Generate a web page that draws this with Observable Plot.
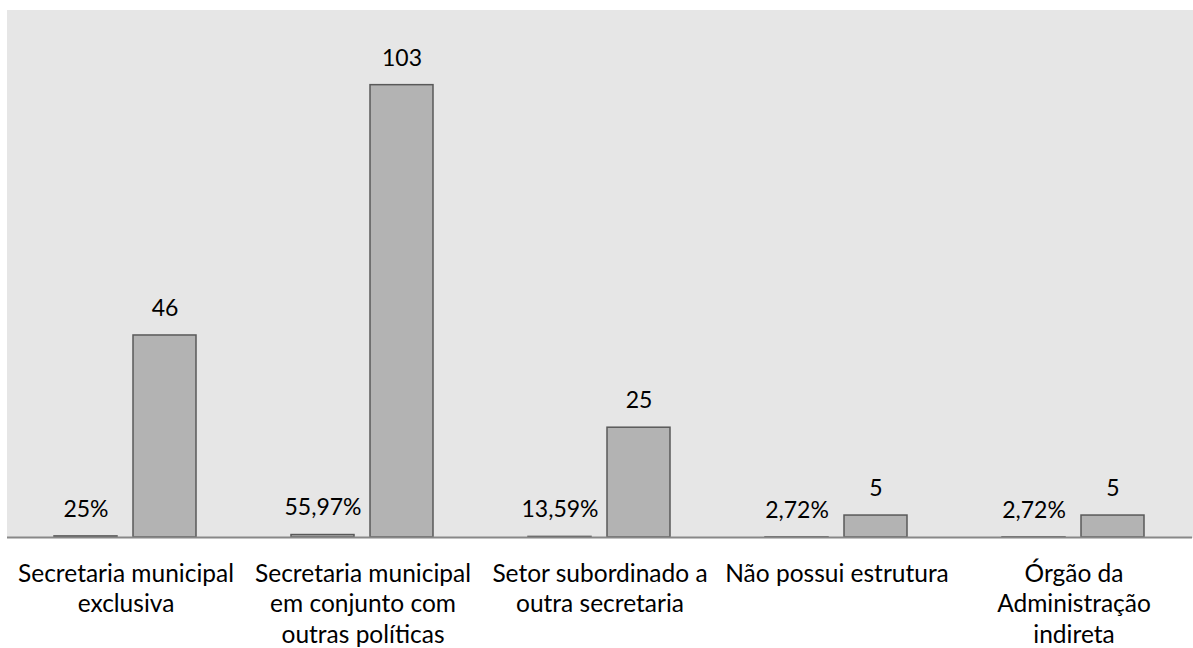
<!DOCTYPE html>
<html>
<head>
<meta charset="utf-8">
<script src="https://cdn.jsdelivr.net/npm/d3@7"></script>
<script src="https://cdn.jsdelivr.net/npm/@observablehq/plot@0.6"></script>
<style>
  html, body { margin: 0; padding: 0; background: #fff; }
  #chart svg { display: block; }
</style>
</head>
<body>
<div id="chart"></div>
<script>
const categories = [
  "Secretaria municipal exclusiva",
  "Secretaria municipal em conjunto com outras políticas",
  "Setor subordinado a outra secretaria",
  "Não possui estrutura",
  "Órgão da Administração indireta"
];
const categoryLabels = [
  "Secretaria municipal\nexclusiva",
  "Secretaria municipal\nem conjunto com\noutras políticas",
  "Setor subordinado a\noutra secretaria",
  "Não possui estrutura",
  "Órgão da\nAdministração\nindireta"
];
const pctValues = [0.25, 0.5597, 0.1359, 0.0272, 0.0272];
const countValues = [46, 103, 25, 5, 5];
const seriesNames = ["pct", "count"];

const fmtPct = v => {
  let s = (v * 100).toFixed(2).replace(/\.00$/, "").replace(".", ",");
  return s + "%";
};

const rows = [];
categories.forEach((c, i) => {
  rows.push({cat: c, series: "pct", value: pctValues[i], label: fmtPct(pctValues[i])});
  rows.push({cat: c, series: "count", value: countValues[i], label: String(countValues[i])});
});
const labelOf = new Map(categories.map((c, i) => [c, categoryLabels[i]]));

const font = "Lato, 'Open Sans', sans-serif";

const chart = Plot.plot({
  width: 1193,
  height: 648,
  marginLeft: 7,
  marginRight: 1,
  marginTop: 10,
  marginBottom: 111,
  style: {fontFamily: font, background: "#fff"},
  fx: {domain: categories, padding: 0, axis: null},
  x: {domain: seriesNames, paddingInner: 0.2, paddingOuter: 0.595, axis: null},
  y: {domain: [0, 120], axis: null},
  marks: [
    Plot.frame({fill: "#e6e6e6", stroke: "#e6e6e6", strokeWidth: 1, shapeRendering: "crispEdges"}),
    Plot.barY(rows, {fx: "cat", x: "series", y: "value", fill: "#b3b3b3", stroke: "#595959", strokeWidth: 1.5}),
    Plot.ruleY([0], {stroke: "#888888", strokeWidth: 2}),
    Plot.text(rows, {fx: "cat", x: "series", y: "value", text: "label", dy: -27, fontSize: 23, fill: "#000", fontFamily: font}),
    Plot.text(categories, {fx: d => d, text: d => labelOf.get(d), frameAnchor: "bottom", lineAnchor: "top", dy: 22, lineHeight: 1.265, fontSize: 24.5, fill: "#000", fontFamily: font})
  ]
});
document.getElementById("chart").appendChild(chart);
</script>
</body>
</html>
